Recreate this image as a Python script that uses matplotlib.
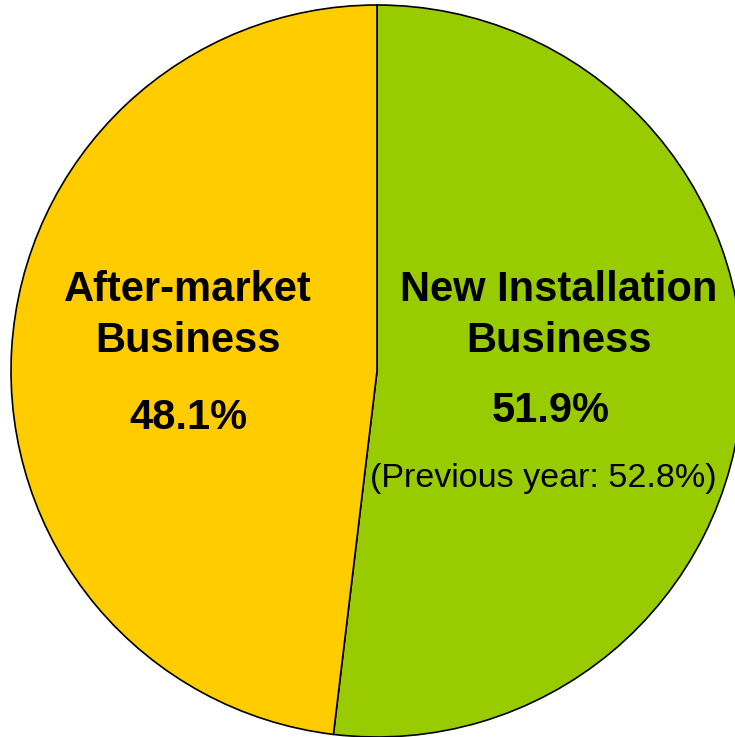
import matplotlib.pyplot as plt

# Sales composition
labels = ["New Installation\nBusiness", "After-market\nBusiness"]
shares = [51.9, 48.1]
colors = ["#99CC00", "#FFCC00"]
pct_labels = ["51.9%", "48.1%"]
prev_note = "(Previous year: 52.8%)"

W, H = 735, 737
fig = plt.figure(figsize=(W / 100, H / 100), dpi=100)
ax = fig.add_axes([0, 0, 1, 1])
ax.set_xlim(0, W)
ax.set_ylim(0, H)
ax.set_aspect("equal")
ax.axis("off")

ax.pie(shares, colors=colors, startangle=90, counterclock=False,
       center=(377, H - 371), radius=366,
       wedgeprops=dict(edgecolor="black", linewidth=1.2))
ax.set_xlim(0, W)
ax.set_ylim(0, H)

font = ["Liberation Sans", "DejaVu Sans"]

# New installation
ax.text(559, H - 290, "New Installation", ha="center", va="center",
        fontsize=30, fontweight="bold", family=font)
ax.text(559, H - 341, "Business", ha="center", va="center",
        fontsize=30, fontweight="bold", family=font)
ax.text(551, H - 411, pct_labels[0], ha="center", va="center",
        fontsize=30, fontweight="bold", family=font)
ax.text(543, H - 478, prev_note, ha="center", va="center",
        fontsize=24.5, family=font)

# After-market
ax.text(188, H - 290, "After-market", ha="center", va="center",
        fontsize=30, fontweight="bold", family=font)
ax.text(188, H - 341, "Business", ha="center", va="center",
        fontsize=30, fontweight="bold", family=font)
ax.text(188, H - 418, pct_labels[1], ha="center", va="center",
        fontsize=30, fontweight="bold", family=font)

fig.savefig("out.png", dpi=100)
